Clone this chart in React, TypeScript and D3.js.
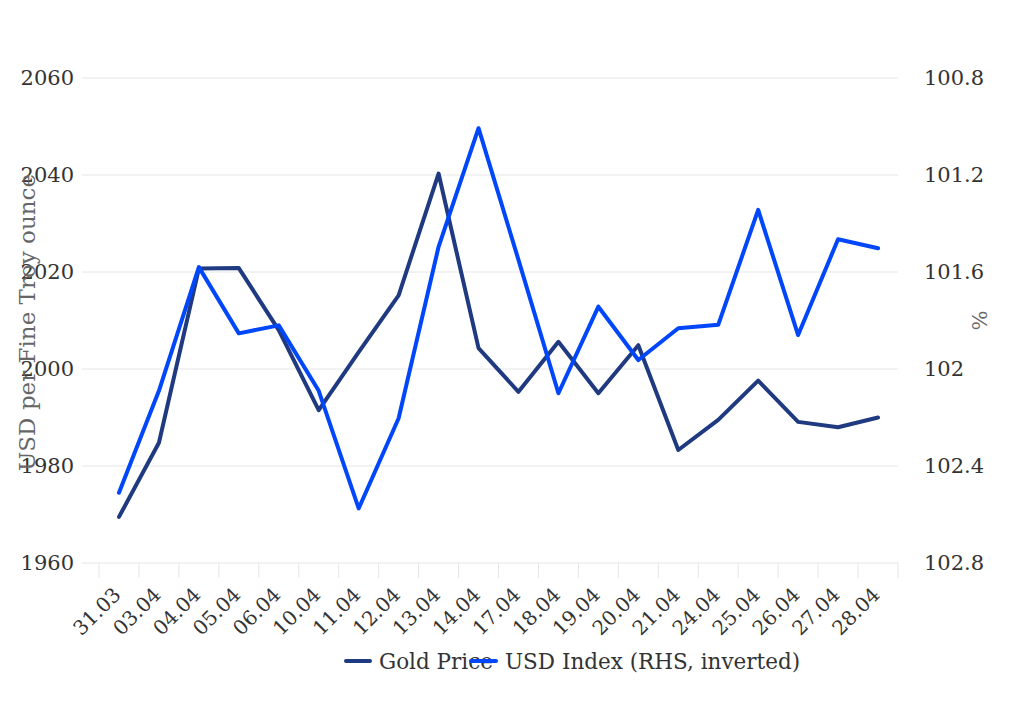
import React from "react";
import * as d3 from "d3";

const categories = ["31.03","03.04","04.04","05.04","06.04","10.04","11.04","12.04","13.04","14.04","17.04","18.04","19.04","20.04","21.04","24.04","25.04","26.04","27.04","28.04"];
const goldPrice = [1969.5,1984.8,2020.7,2020.8,2008.0,1991.5,2003.5,2015.2,2040.3,2004.3,1995.3,2005.6,1995.0,2004.9,1983.3,1989.5,1997.6,1989.1,1988.0,1990.0];
const usdIndex = [102.51,102.09,101.58,101.853,101.82,102.09,102.575,102.203,101.496,101.007,101.55,102.10,101.743,101.963,101.832,101.818,101.344,101.86,101.465,101.502];
const leftTicks = [1960,1980,2000,2020,2040,2060];
const rightTicks = [100.8,101.2,101.6,102,102.4,102.8];

const W = 1024, H = 726;
const plotTop = 78, plotBottom = 563, gridLeft = 82, plotLeft = 99, plotRight = 898;
const GOLD = "#1f3a80";
const BLUE = "#0046fa";
const FONT = "'DejaVu Serif', serif";

export default function App() {
  const x = d3.scaleBand<string>().domain(categories).range([plotLeft, plotRight]).padding(0);
  const yL = d3.scaleLinear().domain([1960, 2060]).range([plotBottom, plotTop]);
  const yR = d3.scaleLinear().domain([100.8, 102.8]).range([plotTop, plotBottom]);
  const cx = (c: string) => (x(c) ?? 0) + x.bandwidth() / 2;
  const goldLine = d3.line<number>().x((_, i) => cx(categories[i])).y(d => yL(d));
  const usdLine = d3.line<number>().x((_, i) => cx(categories[i])).y(d => yR(d));
  const tickXs = categories.map(c => x(c) ?? 0).concat([plotRight]);

  return (
    <svg width={W} height={H} style={{ position: "absolute", left: 0, top: 0, background: "#fff" }} fontFamily={FONT}>
      {leftTicks.map(t => (
        <line key={"g" + t} x1={gridLeft} x2={plotRight} y1={yL(t)} y2={yL(t)} stroke="#e6e6e6" strokeWidth={1} />
      ))}
      {tickXs.map((tx, i) => (
        <line key={"t" + i} x1={tx} x2={tx} y1={plotBottom} y2={plotBottom + 15} stroke="#e6e6e6" strokeWidth={1} />
      ))}
      {leftTicks.map(t => (
        <text key={"l" + t} x={74} y={yL(t)} dy="0.35em" textAnchor="end" fontSize={21} fill="#333">{t}</text>
      ))}
      {rightTicks.map(t => (
        <text key={"r" + t} x={924} y={yR(t)} dy="0.35em" textAnchor="start" fontSize={21} fill="#333">{String(t)}</text>
      ))}
      <text transform={`translate(35,${(plotTop + plotBottom) / 2 + 2}) rotate(-90)`} textAnchor="middle" fontSize={23} fill="#666">USD per Fine Troy ounce</text>
      <text transform={`translate(972,${(plotTop + plotBottom) / 2}) rotate(90)`} textAnchor="middle" fontSize={21} fill="#666">%</text>
      {categories.map(c => (
        <text key={"c" + c} transform={`translate(${cx(c) + 3},${plotBottom + 33}) rotate(-45)`} textAnchor="end" fontSize={20} fill="#333">{c}</text>
      ))}
      <path d={goldLine(goldPrice) ?? ""} fill="none" stroke={GOLD} strokeWidth={4} strokeLinejoin="round" strokeLinecap="round" />
      <path d={usdLine(usdIndex) ?? ""} fill="none" stroke={BLUE} strokeWidth={4} strokeLinejoin="round" strokeLinecap="round" />
      <g>
        <line x1={346} x2={370} y1={661} y2={661} stroke={GOLD} strokeWidth={4} strokeLinecap="round" />
        <text x={379} y={661} dy="0.35em" fontSize={21.5} fill="#333">Gold Price</text>
        <line x1={471} x2={496} y1={661} y2={661} stroke={BLUE} strokeWidth={4} strokeLinecap="round" />
        <text x={505} y={661} dy="0.35em" fontSize={21.5} fill="#333">USD Index (RHS, inverted)</text>
      </g>
    </svg>
  );
}
